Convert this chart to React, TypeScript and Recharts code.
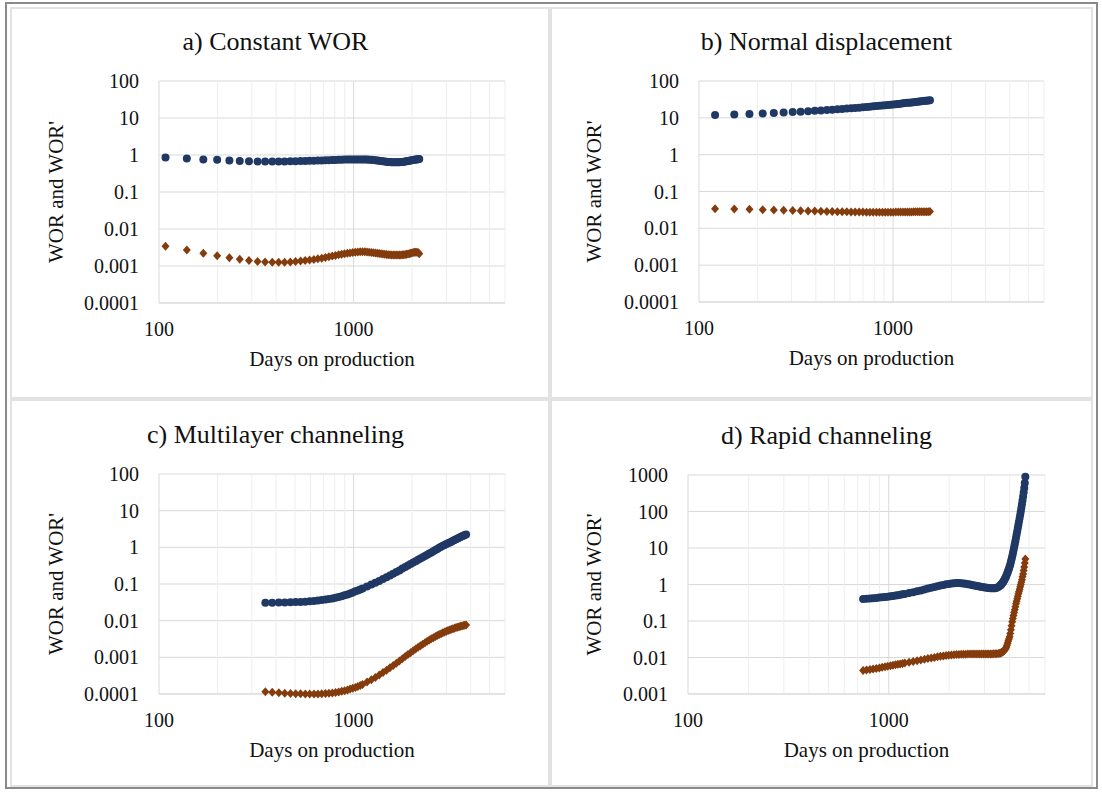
import { CartesianGrid, ReferenceLine, Scatter, ScatterChart, XAxis, YAxis } from 'recharts';

const FONT = '"Liberation Serif", "Times New Roman", serif';
const BLUE = '#1F3864';
const BROWN = '#843C0C';
const GRID = '#d9d9d9';
const MINOR_GRID = '#eeeeee';

// a) Constant WOR
const aDays = [
  108, 139, 169, 199, 230, 260, 290, 321, 351, 382,
  412, 442, 473, 503, 534, 564, 594, 625, 655, 686,
  716, 746, 777, 807, 838, 868, 898, 929, 959, 990,
  1020, 1050, 1081, 1111, 1142, 1172, 1202, 1233, 1263, 1294,
  1324, 1354, 1385, 1415, 1446, 1476, 1506, 1537, 1567, 1598,
  1628, 1658, 1689, 1719, 1750, 1780, 1810, 1841, 1871, 1902,
  1932, 1962, 1993, 2023, 2054, 2084, 2114, 2145, 2175,
];
const aWor = [
  0.86, 0.8, 0.76, 0.74, 0.71, 0.69, 0.68, 0.67, 0.67, 0.67,
  0.67, 0.67, 0.68, 0.68, 0.69, 0.69, 0.7, 0.7, 0.71, 0.71,
  0.72, 0.72, 0.73, 0.73, 0.74, 0.74, 0.75, 0.75, 0.75, 0.76,
  0.76, 0.76, 0.76, 0.75, 0.75, 0.75, 0.74, 0.74, 0.73, 0.72,
  0.71, 0.7, 0.69, 0.68, 0.67, 0.66, 0.65, 0.65, 0.64, 0.64,
  0.64, 0.64, 0.64, 0.64, 0.65, 0.65, 0.66, 0.67, 0.68, 0.69,
  0.7, 0.71, 0.72, 0.73, 0.74, 0.75, 0.76, 0.77, 0.78,
];
const aWorPrime = [
  0.0034, 0.0027, 0.0022, 0.0019, 0.00168, 0.00153, 0.0014, 0.00132, 0.00128, 0.00126,
  0.00126, 0.00127, 0.00129, 0.00132, 0.00136, 0.0014, 0.00145, 0.0015, 0.00157, 0.00163,
  0.0017, 0.00177, 0.00185, 0.00192, 0.002, 0.00207, 0.00214, 0.0022, 0.00226, 0.00232,
  0.00237, 0.0024, 0.00242, 0.00243, 0.00242, 0.0024, 0.00237, 0.00233, 0.00229, 0.00225,
  0.00221, 0.00217, 0.00213, 0.0021, 0.00207, 0.00204, 0.00202, 0.002, 0.00199, 0.00198,
  0.00197, 0.00197, 0.00197, 0.00198, 0.00199, 0.002, 0.00202, 0.00205, 0.00208, 0.00212,
  0.00216, 0.0022, 0.00225, 0.0023, 0.00234, 0.00237, 0.00237, 0.00232, 0.00215,
];

// b) Normal displacement
const bDays = [
  121, 152, 182, 213, 243, 273, 304, 334, 365, 395,
  425, 456, 486, 517, 547, 578, 608, 638, 669, 699,
  730, 760, 790, 821, 851, 882, 912, 942, 973, 1003,
  1034, 1064, 1094, 1125, 1155, 1186, 1216, 1246, 1277, 1307,
  1338, 1368, 1398, 1429, 1459, 1490, 1520, 1550,
];
const bWor = [
  12.0, 12.4, 12.8, 13.2, 13.5, 13.9, 14.3, 14.7, 15.1, 15.5,
  15.8, 16.2, 16.6, 17.0, 17.4, 17.8, 18.2, 18.5, 18.9, 19.3,
  19.7, 20.1, 20.5, 20.8, 21.2, 21.6, 22.0, 22.4, 22.8, 23.1,
  23.5, 23.9, 24.3, 24.7, 25.1, 25.5, 25.8, 26.2, 26.6, 27.0,
  27.4, 27.8, 28.1, 28.5, 28.9, 29.3, 29.7, 30.0,
];
const bWorPrime = [
  0.034, 0.0335, 0.033, 0.032, 0.0315, 0.031, 0.0305, 0.03, 0.0297, 0.0294,
  0.0291, 0.0288, 0.0286, 0.0284, 0.0282, 0.028, 0.0279, 0.0278, 0.0277, 0.0276,
  0.0275, 0.0275, 0.0274, 0.0274, 0.0274, 0.0274, 0.0274, 0.0275, 0.0275, 0.0275,
  0.0276, 0.0276, 0.0277, 0.0277, 0.0278, 0.0278, 0.0279, 0.0279, 0.028, 0.028,
  0.0281, 0.0281, 0.0282, 0.0282, 0.0283, 0.0283, 0.0284, 0.0285,
];

// c) Multilayer channeling
const cDays = [
  352, 382, 413, 443, 474, 504, 534, 565, 595, 626,
  656, 686, 717, 747, 778, 808, 838, 869, 899, 930,
  960, 990, 1021, 1051, 1082, 1112, 1173, 1234, 1294, 1355,
  1416, 1477, 1538, 1598, 1659, 1720, 1781, 1842, 1902, 1963,
  2024, 2085, 2146, 2206, 2267, 2328, 2389, 2450, 2510, 2571,
  2632, 2693, 2754, 2814, 2875, 2936, 2997, 3058, 3118, 3179,
  3240, 3301, 3362, 3422, 3483, 3544, 3605, 3666, 3726, 3787,
];
const cWor = [
  0.031, 0.031, 0.0312, 0.0314, 0.0317, 0.0321, 0.0325, 0.033, 0.0337, 0.0345,
  0.0354, 0.0364, 0.0376, 0.0389, 0.0405, 0.0422, 0.0442, 0.0465, 0.049, 0.052,
  0.0553, 0.059, 0.0631, 0.0668, 0.0713, 0.0759, 0.0857, 0.097, 0.108, 0.121,
  0.136, 0.152, 0.17, 0.189, 0.211, 0.235, 0.263, 0.292, 0.321, 0.351,
  0.384, 0.418, 0.455, 0.494, 0.537, 0.582, 0.627, 0.675, 0.724, 0.78,
  0.841, 0.906, 0.975, 1.04, 1.1, 1.16, 1.23, 1.29, 1.36, 1.43,
  1.51, 1.58, 1.66, 1.74, 1.82, 1.91, 2.0, 2.07, 2.16, 2.24,
];
const cWorPrime = [
  0.000115, 0.000111, 0.000108, 0.000105, 0.000104, 0.000102, 0.000101, 0.0001, 0.0001, 0.0001,
  0.0001, 0.000101, 0.000103, 0.000105, 0.000107, 0.00011, 0.000114, 0.000118, 0.000123, 0.000129,
  0.000136, 0.000143, 0.000151, 0.000161, 0.000171, 0.000183, 0.000211, 0.000244, 0.000283, 0.00033,
  0.000384, 0.000447, 0.000519, 0.0006, 0.000692, 0.000794, 0.000912, 0.00105, 0.00119, 0.00134,
  0.00151, 0.00169, 0.00188, 0.00208, 0.00229, 0.00251, 0.00274, 0.00296, 0.0032, 0.00344,
  0.00368, 0.00393, 0.00417, 0.00441, 0.00465, 0.00489, 0.00513, 0.00537, 0.0056, 0.00582,
  0.00604, 0.00625, 0.00646, 0.00665, 0.00684, 0.00701, 0.00718, 0.00733, 0.00746, 0.00759,
];

// d) Rapid channeling
const dDays = [
  745, 775, 806, 836, 867, 897, 927, 958, 988, 1019,
  1049, 1080, 1110, 1140, 1171, 1201, 1262, 1323, 1384, 1444,
  1505, 1566, 1627, 1688, 1748, 1809, 1870, 1931, 1992, 2052,
  2113, 2174, 2235, 2296, 2356, 2417, 2478, 2539, 2600, 2660,
  2721, 2782, 2843, 2904, 2964, 3025, 3086, 3147, 3208, 3268,
  3329, 3390, 3451, 3512, 3572, 3603, 3633, 3664, 3694, 3724,
  3755, 3785, 3816, 3846, 3876, 3907, 3937, 3968, 3998, 4028,
  4059, 4089, 4120, 4150, 4180, 4211, 4241, 4272, 4302, 4332,
  4363, 4393, 4424, 4454, 4484, 4515, 4545, 4576, 4606, 4636,
  4667, 4697, 4728, 4758, 4788,
];
const dWor = [
  0.398, 0.406, 0.413, 0.421, 0.43, 0.439, 0.448, 0.457, 0.465, 0.474,
  0.485, 0.498, 0.511, 0.524, 0.537, 0.55, 0.581, 0.615, 0.652, 0.689,
  0.728, 0.771, 0.813, 0.855, 0.897, 0.938, 0.975, 1.009, 1.04, 1.067,
  1.086, 1.096, 1.096, 1.086, 1.069, 1.047, 1.023, 0.998, 0.973, 0.946,
  0.92, 0.897, 0.875, 0.855, 0.838, 0.822, 0.809, 0.798, 0.791, 0.785,
  0.785, 0.792, 0.813, 0.851, 0.912, 0.955, 1.0, 1.06, 1.12, 1.2,
  1.3, 1.41, 1.55, 1.72, 1.91, 2.14, 2.4, 2.69, 3.09, 3.55,
  4.17, 4.9, 5.9, 7.08, 8.5, 10.5, 12.6, 15.5, 19, 23.4,
  28.8, 35.5, 43.6, 53.7, 66, 81, 100, 126, 158, 200,
  257, 331, 437, 603, 891,
];
const dWorPrime = [
  0.00437, 0.00452, 0.00468, 0.00484, 0.00501, 0.00519, 0.00537, 0.00556, 0.00575, 0.00594,
  0.00612, 0.00631, 0.00649, 0.00667, 0.00686, 0.00705, 0.00741, 0.0078, 0.0082, 0.00859,
  0.00895, 0.00933, 0.0097, 0.01007, 0.01042, 0.01076, 0.01107, 0.01132, 0.01153, 0.01169,
  0.01186, 0.012, 0.01211, 0.01219, 0.01227, 0.01233, 0.01239, 0.01242, 0.01245, 0.01245,
  0.01245, 0.01245, 0.01245, 0.01245, 0.01245, 0.01245, 0.01245, 0.01247, 0.0125, 0.01253,
  0.01259, 0.01265, 0.01276, 0.01288, 0.01306, 0.01318, 0.01355, 0.0139, 0.01426, 0.01479,
  0.01549, 0.01622, 0.01738, 0.01905, 0.02138, 0.02455, 0.02818, 0.03236, 0.03715, 0.0457,
  0.0575, 0.0741, 0.0955, 0.1175, 0.141, 0.17, 0.204, 0.245, 0.295, 0.347,
  0.407, 0.479, 0.562, 0.646, 0.741, 0.871, 1.0, 1.15, 1.35, 1.62,
  1.95, 2.4, 3.0, 3.9, 5.0,
];

const xTicks = [100, 1000];
const minorGridDays = [200, 300, 400, 500, 600, 700, 800, 900, 2000, 3000, 4000, 5000, 6000];
const yTicksLow = [0.0001, 0.001, 0.01, 0.1, 1, 10, 100];
const yTicksHigh = [0.001, 0.01, 0.1, 1, 10, 100, 1000];

const X_LABEL = 'Days on production';
const Y_LABEL = "WOR and WOR'";

type Pt = { x: number; y: number };
const toPoints = (days: number[], vals: number[]): Pt[] => days.map((x, i) => ({ x, y: vals[i] }));

const Dot = (p: any) => <circle cx={p.cx} cy={p.cy} r={4} fill={BLUE} />;
const Diamond = (p: any) => (
  <path
    d={`M${p.cx},${p.cy - 4.5}L${p.cx + 4},${p.cy}L${p.cx},${p.cy + 4.5}L${p.cx - 4},${p.cy}Z`}
    fill={BROWN}
  />
);

type Panel = {
  title: string;
  box: [number, number, number, number]; // left, top, width, height (page px)
  plot: [number, number, number, number]; // left, top, right, bottom (page px)
  yLabelX: number;
  yTicks: number[];
  wor: Pt[];
  worPrime: Pt[];
};

const panels: Panel[] = [
  {
    title: 'a) Constant WOR',
    box: [0, 0, 551, 400],
    plot: [159, 81, 505, 303],
    yLabelX: 56,
    yTicks: yTicksLow,
    wor: toPoints(aDays, aWor),
    worPrime: toPoints(aDays, aWorPrime),
  },
  {
    title: 'b) Normal displacement',
    box: [551, 0, 551, 400],
    plot: [699, 81, 1044, 302],
    yLabelX: 594,
    yTicks: yTicksLow,
    wor: toPoints(bDays, bWor),
    worPrime: toPoints(bDays, bWorPrime),
  },
  {
    title: 'c) Multilayer channeling',
    box: [0, 400, 551, 392],
    plot: [159, 474, 505, 694],
    yLabelX: 56,
    yTicks: yTicksLow,
    wor: toPoints(cDays, cWor),
    worPrime: toPoints(cDays, cWorPrime),
  },
  {
    title: 'd) Rapid channeling',
    box: [551, 400, 551, 392],
    plot: [688, 475, 1045, 694],
    yLabelX: 594,
    yTicks: yTicksHigh,
    wor: toPoints(dDays, dWor),
    worPrime: toPoints(dDays, dWorPrime),
  },
];

const X_AXIS_H = 40;

function PanelChart({ p }: { p: Panel }) {
  const [bl, bt, bw, bh] = p.box;
  const [pl, pt, pr, pb] = p.plot;
  const tick = { fontSize: 20, fill: '#111', fontFamily: FONT };
  return (
    <div style={{ position: 'absolute', left: bl, top: bt, width: bw, height: bh }}>
      <ScatterChart
        width={bw}
        height={bh}
        margin={{ top: pt - bt, right: bl + bw - pr, bottom: bt + bh - pb - X_AXIS_H, left: 0 }}
      >
        <CartesianGrid stroke={GRID} vertical={false} />
        {minorGridDays.map((d) => (
          <ReferenceLine key={d} x={d} stroke={MINOR_GRID} strokeWidth={1} />
        ))}
        <ReferenceLine x={1000} stroke={GRID} strokeWidth={1} />
        <XAxis
          type="number"
          dataKey="x"
          scale="log"
          domain={[100, 6000]}
          ticks={xTicks}
          interval={0}
          height={X_AXIS_H}
          tickLine={false}
          tickSize={0}
          tickMargin={19}
          axisLine={{ stroke: GRID }}
          tick={tick}
        />
        <YAxis
          type="number"
          dataKey="y"
          scale="log"
          domain={[p.yTicks[0], p.yTicks[p.yTicks.length - 1]]}
          ticks={p.yTicks}
          interval={0}
          width={pl - bl}
          tickLine={false}
          tickSize={0}
          tickMargin={20}
          axisLine={{ stroke: GRID }}
          tick={tick}
          tickFormatter={(v: number) => String(v)}
        />
        <Scatter data={p.wor} shape={Dot} isAnimationActive={false} />
        <Scatter data={p.worPrime} shape={Diamond} isAnimationActive={false} />
      </ScatterChart>
    </div>
  );
}

export default function App() {
  return (
    <div
      style={{
        position: 'absolute',
        left: 0,
        top: 0,
        width: 1102,
        height: 792,
        background: '#fff',
        overflow: 'hidden',
        fontFamily: FONT,
      }}
    >
      {/* outer frame */}
      <div
        style={{
          position: 'absolute',
          left: 5,
          top: 2,
          width: 1089,
          height: 783,
          border: '2px solid #8a8a8a',
        }}
      />
      {/* panel frames */}
      {[
        [10, 7, 540, 392],
        [550, 7, 543, 392],
        [10, 399, 540, 388],
        [550, 399, 543, 388],
      ].map(([l, t, w, h], i) => (
        <div
          key={i}
          style={{
            position: 'absolute',
            left: l,
            top: t,
            width: w,
            height: h,
            boxSizing: 'border-box',
            border: '2px solid #e2e2e2',
          }}
        />
      ))}
      {panels.map((p) => (
        <PanelChart key={p.title} p={p} />
      ))}
      <svg
        width={1102}
        height={792}
        style={{ position: 'absolute', left: 0, top: 0, pointerEvents: 'none' }}
      >
        {panels.map((p) => {
          const [bl, , bw] = p.box;
          const [pl, pt, pr, pb] = p.plot;
          const cy = (pt + pb) / 2;
          return (
            <g key={p.title} fontFamily={FONT} fill="#111">
              <text x={bl + bw / 2} y={pt - 31} fontSize={26} textAnchor="middle">
                {p.title}
              </text>
              <text x={(pl + pr) / 2} y={pb + 63} fontSize={21} textAnchor="middle">
                {X_LABEL}
              </text>
              <text
                x={p.yLabelX}
                y={cy}
                fontSize={21}
                textAnchor="middle"
                dominantBaseline="central"
                transform={`rotate(-90 ${p.yLabelX} ${cy})`}
              >
                {Y_LABEL}
              </text>
            </g>
          );
        })}
      </svg>
    </div>
  );
}
